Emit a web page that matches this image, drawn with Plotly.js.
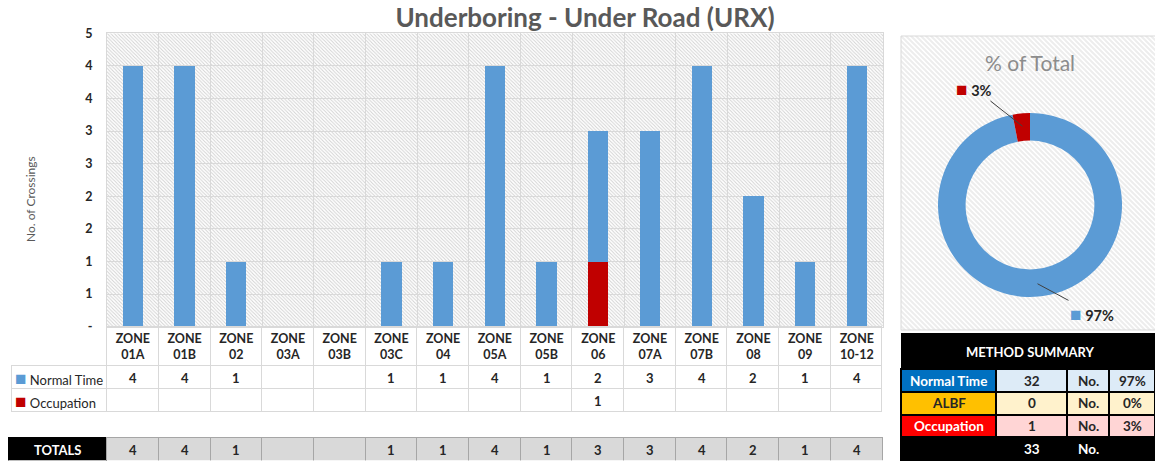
<!DOCTYPE html>
<html><head><meta charset="utf-8">
<script src="https://cdn.plot.ly/plotly-3.0.1.min.js"></script>
<style>html,body{margin:0;padding:0;background:#fff;} #chart{width:1155px;height:461px;}</style>
</head><body><div id="chart"></div>
<script>
// ---------- data ----------
const zones = ['ZONE 01A','ZONE 01B','ZONE 02','ZONE 03A','ZONE 03B','ZONE 03C','ZONE 04','ZONE 05A','ZONE 05B','ZONE 06','ZONE 07A','ZONE 07B','ZONE 08','ZONE 09','ZONE 10-12'];
const normalTime = [4,4,1,null,null,1,1,4,1,2,3,4,2,1,4];
const occupation = [null,null,null,null,null,null,null,null,null,1,null,null,null,null,null];
const albf       = [null,null,null,null,null,null,null,null,null,null,null,null,null,null,null];
const yTickVals = [0,0.5,1,1.5,2,2.5,3,3.5,4,4.5];
const yTickText = ['-','1','1','2','2','3','3','4','4','5'];
const methods = ['Normal Time','ALBF','Occupation'];
const unitLabel = 'No.';
const totalsLabel = 'TOTALS';
const summaryTitle = 'METHOD SUMMARY';
const chartTitle = 'Underboring - Under Road (URX)';
const pieTitle = '% of Total';
const yTitle = 'No. of Crossings';

// ---------- derived ----------
const sum = a => a.reduce((s,v)=>s+(v||0),0);
const methodCounts = [sum(normalTime), sum(albf), sum(occupation)];
const grandTotal = sum(methodCounts);
const totals = zones.map((z,i)=>(normalTime[i]||0)+(occupation[i]||0)+(albf[i]||0));
const fmt = v => (v===null||v===undefined||v===0) ? '' : String(v);
const pct = v => Math.round(v/grandTotal*100)+'%';

// ---------- style ----------
const W=1155, H=461;
const px = x => x/W, py = y => 1-y/H;
const FONT='Lato';
const C_BLUE='#5B9BD5', C_RED='#C00000', C_ALBF='#FFC000';
const DARK='#262626';
const key = c => `<span style="color:${c};font-size:19px">■</span>`;

function hatch(w,h,color,per,sw){
  const p=per;
  const svg = `<svg xmlns="http://www.w3.org/2000/svg" width="${w}" height="${h}"><defs><pattern id="p" patternUnits="userSpaceOnUse" width="${p}" height="${p}"><path d="M0,0 L${p},${p} M-${p/2},${p/2} L${p/2},${p*1.5} M${p/2},-${p/2} L${p*1.5},${p/2}" stroke="${color}" stroke-width="${sw}"/></pattern></defs><rect width="${w}" height="${h}" fill="#ffffff"/><rect width="${w}" height="${h}" fill="url(#p)"/></svg>`;
  return 'data:image/svg+xml;base64,'+btoa(svg);
}

// plot / table geometry (pixels)
const PL=107, PR=882.7, PT=33.3, PB=326.7;
const colW = (PR-PL)/zones.length;
const rowNormY=377.5, rowOccY=400.5, rowTotY=450;
const TRANSP='rgba(0,0,0,0)';

// ---------- traces ----------
const barOcc = {type:'bar', name:'Occupation', x:zones, y:occupation, marker:{color:C_RED}, hoverinfo:'none'};
const barNorm = {type:'bar', name:'Normal Time', x:zones, y:normalTime, marker:{color:C_BLUE}, hoverinfo:'none'};

const pieColors=[C_BLUE, C_ALBF, C_RED];
const pie = {type:'pie', labels:methods, values:methodCounts, marker:{colors:pieColors, line:{width:0}},
  hole:0.7, sort:false, direction:'clockwise', rotation:0, textinfo:'none', hoverinfo:'none',
  domain:{x:[px(938),px(1122)], y:[py(297),py(113)]}, showlegend:false};

const blankCol = n => Array(n).fill('');
const mainTable = {type:'table',
  domain:{x:[px(11),px(PR)], y:[py(416),py(PB)]},
  columnwidth:[96, ...zones.map(()=>colW)],
  header:{values:blankCol(zones.length+1), height:39, fill:{color:TRANSP},
    line:{color:[TRANSP, ...zones.map(()=>'#D9D9D9')], width:1}},
  cells:{values:[blankCol(2), ...zones.map(()=>blankCol(2))], height:23, fill:{color:TRANSP},
    line:{color:'#D9D9D9', width:1}}
};

const totalsTable = {type:'table',
  domain:{x:[px(8),px(PR)], y:[0,py(437.3)]},
  columnwidth:[99, ...zones.map(()=>colW)],
  header:{values:blankCol(zones.length+1), height:27,
    fill:{color:['#000000', ...zones.map(()=>'#D9D9D9')]},
    line:{color:['#000000', ...zones.map(()=>'#A6A6A6')], width:1}},
  cells:{values:[[''], ...zones.map(()=>[''])], height:1, line:{width:0}, fill:{color:TRANSP}}
};

const summaryHead = {type:'table',
  domain:{x:[px(901),1], y:[py(369),py(333)]},
  header:{values:[''], height:36, fill:{color:'#000000'}, line:{color:'#000000', width:1}},
  cells:{values:[['']], height:1, line:{width:0}, fill:{color:'#000000'}}
};

const sColW=[95,71,42,46];
const rowFill = [['#0070C0','#DDEBF7'],[C_ALBF,'#FFF2CC'],['#FF0000','#FFD5D5']];
const rowFont = [['#ffffff',DARK],[DARK,DARK],['#ffffff',DARK]];
const sRows = methods.map((m,i)=>[m, String(methodCounts[i]), unitLabel, pct(methodCounts[i])]);
const sFill = methods.map((m,i)=>[rowFill[i][0],rowFill[i][1],rowFill[i][1],rowFill[i][1]]);
const sFont = methods.map((m,i)=>[rowFont[i][0],rowFont[i][1],rowFont[i][1],rowFont[i][1]]);
const allRows = [...sRows, ['', String(grandTotal), unitLabel, '']];
const allFill = [...sFill, ['#000','#000','#000','#000']];
const allFont = [...sFont, ['#fff','#fff','#fff','#fff']];
const colsOf = rows => rows[0].map((_,c)=>rows.map(r=>r[c]));
const summaryTable = {type:'table',
  domain:{x:[px(901),1], y:[0,py(369)]},
  columnwidth:sColW,
  header:{values:blankCol(4), height:23, fill:{color:allFill[0]}, line:{color:'#000000', width:2}},
  cells:{values:colsOf(allRows.slice(1).map(r=>r.map(()=>''))), height:22.5, fill:{color:colsOf(allFill.slice(1))},
    line:{color:'#000000', width:2}}
};

// ---------- text annotations ----------
const annotations = [];
const A = o => annotations.push(Object.assign({showarrow:false, xanchor:'center', yanchor:'middle'}, o));

// table row labels
A({xref:'paper', yref:'paper', x:px(13), y:py(rowNormY), xanchor:'left', text:key(C_BLUE)+' Normal Time',
  font:{family:FONT, size:13, color:DARK}});
A({xref:'paper', yref:'paper', x:px(13), y:py(rowOccY), xanchor:'left', text:key(C_RED)+' Occupation',
  font:{family:FONT, size:13, color:DARK}});
A({xref:'paper', yref:'paper', x:px(57.5), y:py(rowTotY), text:'<b>'+totalsLabel+'</b>',
  font:{family:FONT, size:13, color:'#ffffff'}});
zones.forEach((z,i)=>{
  const f = {family:FONT, size:13, color:DARK, weight:'bold'};
  if(fmt(normalTime[i])) A({xref:'x', yref:'paper', x:z, y:py(rowNormY), text:fmt(normalTime[i]), font:f});
  if(fmt(occupation[i])) A({xref:'x', yref:'paper', x:z, y:py(rowOccY), text:fmt(occupation[i]), font:f});
  if(fmt(totals[i])) A({xref:'x', yref:'paper', x:z, y:py(rowTotY), text:fmt(totals[i]), font:f});
});

// summary
A({xref:'paper', yref:'paper', x:px(1030), y:py(351.5), text:'<b>'+summaryTitle+'</b>',
  font:{family:FONT, size:13, color:'#ffffff'}});
const sRowY=[380.5, 403, 425.5, 449];
let sx=901; const sColX=sColW.map(w=>{const c=sx+w/2; sx+=w; return c;});
allRows.forEach((r,ri)=>r.forEach((t,ci)=>{
  if(t) A({xref:'paper', yref:'paper', x:px(sColX[ci]), y:py(sRowY[ri]), text:'<b>'+t+'</b>',
    font:{family:FONT, size:13.5, color:allFont[ri][ci]}});
}));

// pie labels
const cx=1030, cy=205, R=92;
const labelPos = [[1092,313],[0,0],[974,88]];
let cum=0;
methodCounts.forEach((v,i)=>{
  if(v>0){
    const th = (cum+v/2)/grandTotal*2*Math.PI;
    const ptx = cx + 0.86*R*Math.sin(th), pty = cy - 0.86*R*Math.cos(th);
    annotations.push({xref:'paper', yref:'paper', x:px(ptx), y:py(pty),
      ax:labelPos[i][0]-ptx, ay:labelPos[i][1]-pty, showarrow:true, arrowhead:0, arrowwidth:1, arrowcolor:'#404040',
      text:key(pieColors[i])+' <b>'+pct(v)+'</b>', font:{family:FONT, size:14.5, color:DARK}});
  }
  cum+=v;
});
A({xref:'paper', yref:'paper', x:px(30), y:py(199), text:yTitle, textangle:-90,
  font:{family:FONT, size:12, color:'#595959'}});
A({xref:'paper', yref:'paper', x:px(1030), y:py(62), text:pieTitle,
  font:{family:FONT, size:21, color:'#8C8C8C'}});

const layout = {
  width:W, height:H, margin:{l:0,r:0,t:0,b:0}, paper_bgcolor:'#ffffff', plot_bgcolor:TRANSP,
  showlegend:false, barmode:'stack', bargap:0.61,
  font:{family:FONT, color:DARK},
  title:{text:'<b>'+chartTitle+'</b>', x:px(585), y:py(18), xref:'container', yref:'container',
    xanchor:'center', yanchor:'middle', font:{family:FONT, size:26, color:'#595959'}},
  xaxis:{domain:[px(PL),px(PR)], type:'category', range:[-0.5, zones.length-0.5], tickson:'boundaries',
    tickvals:zones, ticktext:zones.map(z=>'<b>'+z.replace(' ','<br>')+'</b>'),
    tickfont:{family:FONT, size:12.5, color:DARK}, ticklabelstandoff:0,
    showgrid:true, gridcolor:'#D9D9D9', gridwidth:1, ticks:'', showline:true, mirror:true,
    linecolor:'#D9D9D9', fixedrange:true},
  yaxis:{domain:[py(PB),py(PT)], range:[0,4.5], tickvals:yTickVals, ticktext:yTickText, showgrid:true,
    gridcolor:'#D9D9D9', zeroline:false, ticks:'', ticklabelstandoff:11, showline:true, mirror:true, linecolor:'#D9D9D9',
    tickfont:{family:FONT, size:12.5, color:DARK, weight:'bold'}, fixedrange:true},
  images:[
    {source:hatch(Math.round(PR-PL),Math.round(PB-PT),'#D0D0D0',3.5,0.9), xref:'paper', yref:'paper', x:px(PL), y:py(PT),
      sizex:Math.round(PR-PL)/W, sizey:Math.round(PB-PT)/H, xanchor:'left', yanchor:'top', sizing:'stretch', layer:'below'},
    {source:hatch(255,294,'#EDEDED',5,2), xref:'paper', yref:'paper', x:px(901), y:py(36),
      sizex:255/W, sizey:294/H, xanchor:'left', yanchor:'top', sizing:'stretch', layer:'below'}
  ],
  shapes:[{type:'rect', xref:'paper', yref:'paper', x0:px(901), x1:px(1156), y0:py(330), y1:py(36),
    line:{color:'#D9D9D9', width:1}, fillcolor:TRANSP, layer:'below'}],
  annotations:annotations
};

Plotly.newPlot('chart', [barOcc, barNorm, pie, mainTable, totalsTable, summaryHead, summaryTable], layout,
  {displayModeBar:false, staticPlot:true});
</script></body></html>
